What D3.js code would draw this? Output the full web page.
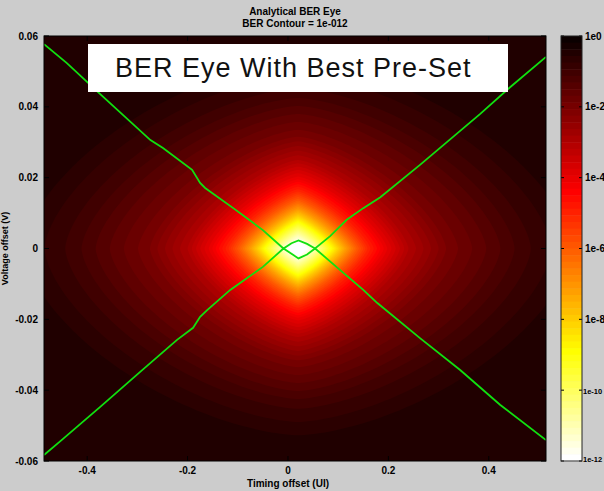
<!DOCTYPE html>
<html><head><meta charset="utf-8">
<script src="https://cdn.jsdelivr.net/npm/d3@7"></script>
<style>
body{margin:0;background:#cccccc;}
svg{display:block;font-family:"Liberation Sans",Arial,sans-serif;}
</style>
</head><body><svg id="c" width="604" height="491"></svg>
<script>
// ---------- data ----------
const xTicks = [-0.4, -0.2, 0, 0.2, 0.4];
const xTickLabels = ["-0.4", "-0.2", "0", "0.2", "0.4"];
const yTicks = [-0.06, -0.04, -0.02, 0, 0.02, 0.04, 0.06];
const yTickLabels = ["-0.06", "-0.04", "-0.02", "0", "0.02", "0.04", "0.06"];
const cbTicks = [0, -2, -4, -6, -8, -10, -12];
const cbTickLabels = ["1e0", "1e-2", "1e-4", "1e-6", "1e-8", "1e-10", "1e-12"];
const eyeCenterX = 0.02, eyeCenterV = 0;
const backgroundLevel = -0.4;
// BER contour levels (log10) and their half extents
const contourLevels     = [-0.5, -1,    -2,    -3,    -4,    -5,     -6,     -7,     -8,     -9,     -10,    -11,    -12];
const contourHalfWidth  = [0.56, 0.45,  0.30,  0.22,  0.175, 0.14,   0.117,  0.098,  0.081,  0.066,  0.050,  0.034,  0.016];
const contourHalfHeight = [0.054,0.044, 0.032, 0.025, 0.020, 0.0163, 0.0135, 0.0112, 0.0092, 0.0074, 0.0055, 0.0036, 0.0016];
const contourExponent   = [1.6,  1.55,  1.45,  1.38,  1.32,  1.28,   1.25,   1.22,   1.2,    1.2,    1.2,    1.2,    1.2];
// BER = 1e-12 contour (green)
const upperX = [-0.486,-0.441,-0.374,-0.274,-0.249,-0.191,-0.175,-0.165,-0.109,-0.050,-0.009,0.007,0.021,0.038,0.054,0.084,0.117,0.150,0.184,0.263,0.333,0.383,0.443,0.514];
const upperV = [0.0577,0.0524,0.0436,0.0306,0.0284,0.0222,0.0185,0.0171,0.0114,0.0052,0.0000,0.0015,0.0023,0.0013,0.0000,0.0035,0.0081,0.0114,0.0145,0.0236,0.0320,0.0380,0.0456,0.0541];
const lowerX = [-0.486,-0.451,-0.374,-0.295,-0.221,-0.189,-0.175,-0.161,-0.115,-0.050,-0.009,0.007,0.021,0.038,0.054,0.104,0.150,0.178,0.263,0.343,0.423,0.514];
const lowerV = [-0.0583,-0.0541,-0.0447,-0.0349,-0.0258,-0.0224,-0.0193,-0.0174,-0.0117,-0.0052,0.0000,-0.0015,-0.0028,-0.0017,0.0000,-0.0061,-0.0117,-0.0154,-0.0253,-0.0343,-0.0442,-0.0541];

// ---------- layout ----------
const L = 44, R = 546, T = 36, B = 461;
const cbL = 561, cbR = 582;
const svg = d3.select("#c");
const x = d3.scaleLinear().domain([-0.486, 0.514]).range([L, R]);
const y = d3.scaleLinear().domain([-0.06, 0.06]).range([B, T]);
const yc = d3.scaleLinear().domain([0, -12]).range([T, B]);

function hot(i) { // MATLAB hot(64)
  const r = Math.min(1, (i + 1) / 24);
  const g = Math.max(0, Math.min(1, (i + 1 - 24) / 24));
  const b = Math.max(0, Math.min(1, (i + 1 - 48) / 16));
  return d3.rgb(r * 255, g * 255, b * 255).toString();
}
const nC = 64;
const levelIndex = lv => Math.max(0, Math.min(nC - 1, Math.floor(-lv / 12 * nC)));

svg.append("defs").append("clipPath").attr("id", "clip")
  .append("rect").attr("x", L).attr("y", T).attr("width", R - L).attr("height", B - T);

const plot = svg.append("g").attr("clip-path", "url(#clip)");
plot.append("rect").attr("x", L).attr("y", T).attr("width", R - L).attr("height", B - T)
  .attr("fill", hot(levelIndex(backgroundLevel)));

const aS = d3.scaleLinear().domain(contourLevels).range(contourHalfWidth).clamp(true);
const bS = d3.scaleLinear().domain(contourLevels).range(contourHalfHeight).clamp(true);
const pS = d3.scaleLinear().domain(contourLevels).range(contourExponent).clamp(true);

const line = d3.line();
for (let i = levelIndex(backgroundLevel) + 1; i < nC; i++) {
  const lv = -i * 12 / nC;
  const a = aS(lv), b = bS(lv), p = pS(lv);
  const pts = d3.range(0, 240).map(k => {
    const t = k / 240 * 2 * Math.PI;
    const c = Math.cos(t), s = Math.sin(t);
    const px = a * Math.sign(c) * Math.pow(Math.abs(c), 2 / p);
    const py = b * Math.sign(s) * Math.pow(Math.abs(s), 2 / p);
    return [x(eyeCenterX + px), y(eyeCenterV + py)];
  });
  plot.append("path").attr("d", line(pts) + "Z").attr("fill", hot(i));
}

const gLine = d3.line().x(d => x(d[0])).y(d => y(d[1])).curve(d3.curveLinear);
plot.append("path").datum(upperX.map((v, i) => [v, upperV[i]]))
  .attr("d", gLine).attr("fill", "none").attr("stroke", "#10e010").attr("stroke-width", 1.8);
plot.append("path").datum(lowerX.map((v, i) => [v, lowerV[i]]))
  .attr("d", gLine).attr("fill", "none").attr("stroke", "#10e010").attr("stroke-width", 1.8);

// ticks inside
const tk = svg.append("g").attr("stroke", "#000").attr("stroke-width", 1);
xTicks.forEach(v => {
  tk.append("line").attr("x1", x(v)).attr("x2", x(v)).attr("y1", B).attr("y2", B - 5);
  tk.append("line").attr("x1", x(v)).attr("x2", x(v)).attr("y1", T).attr("y2", T + 5);
});
yTicks.forEach(v => {
  tk.append("line").attr("x1", L).attr("x2", L + 5).attr("y1", y(v)).attr("y2", y(v));
  tk.append("line").attr("x1", R).attr("x2", R - 5).attr("y1", y(v)).attr("y2", y(v));
});
svg.append("rect").attr("x", L).attr("y", T).attr("width", R - L).attr("height", B - T)
  .attr("fill", "none").attr("stroke", "#000").attr("stroke-width", 1);

// tick labels
const lab = svg.append("g").attr("font-size", 10).attr("font-weight", "bold").attr("fill", "#000");
xTicks.forEach((v, i) => lab.append("text").attr("x", x(v)).attr("y", 474).attr("text-anchor", "middle").text(xTickLabels[i]));
yTicks.forEach((v, i) => lab.append("text").attr("x", 38).attr("y", y(v) + 3.5).attr("text-anchor", "end").text(yTickLabels[i]));

svg.append("text").attr("x", (L + R) / 2 - 7).attr("y", 487).attr("text-anchor", "middle")
  .attr("font-size", 10).attr("font-weight", "bold").text("Timing offset (UI)");
svg.append("text").attr("transform", `translate(8,${(T + B) / 2}) rotate(-90)`).attr("text-anchor", "middle")
  .attr("font-size", 9).attr("font-weight", "bold").text("Voltage offset (V)");

svg.append("text").attr("x", (L + R) / 2).attr("y", 15).attr("text-anchor", "middle")
  .attr("font-size", 10).attr("font-weight", "bold").text("Analytical BER Eye");
svg.append("text").attr("x", (L + R) / 2).attr("y", 27).attr("text-anchor", "middle")
  .attr("font-size", 10).attr("font-weight", "bold").text("BER Contour = 1e-012");

// colorbar
const cb = svg.append("g");
d3.range(nC).forEach(i => {
  const l0 = -i * 12 / nC, l1 = -(i + 1) * 12 / nC;
  cb.append("rect").attr("x", cbL).attr("y", yc(l0)).attr("width", cbR - cbL)
    .attr("height", yc(l1) - yc(l0) + 0.5).attr("fill", hot(i));
});
cbTicks.forEach(v => {
  cb.append("line").attr("x1", cbL).attr("x2", cbL + 3).attr("y1", yc(v)).attr("y2", yc(v)).attr("stroke", "#000");
  cb.append("line").attr("x1", cbR).attr("x2", cbR - 3).attr("y1", yc(v)).attr("y2", yc(v)).attr("stroke", "#000");
});
cb.append("rect").attr("x", cbL).attr("y", T).attr("width", cbR - cbL).attr("height", B - T)
  .attr("fill", "none").attr("stroke", "#222");
cbTicks.forEach((v, i) => {
  const long = cbTickLabels[i].length > 4;
  cb.append("text").attr("x", long ? 583 : 585).attr("y", yc(v) + (v === -12 ? 1 : 3.5))
    .attr("font-size", long ? 7.5 : 10).attr("font-weight", "bold").text(cbTickLabels[i]);
});

// annotation box
svg.append("rect").attr("x", 88).attr("y", 44).attr("width", 420).attr("height", 48).attr("fill", "#fff");
svg.append("text").attr("x", 115).attr("y", 77).attr("font-size", 27).attr("letter-spacing", 1)
  .attr("fill", "#111").text("BER Eye With Best Pre-Set");
</script>
</body></html>
